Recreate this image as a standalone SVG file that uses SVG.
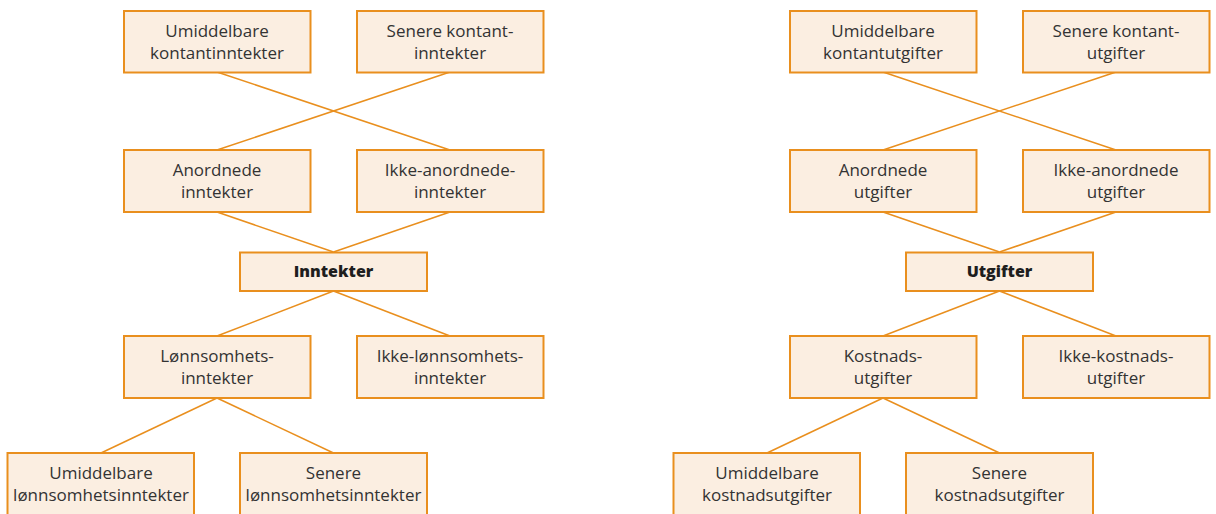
<svg xmlns="http://www.w3.org/2000/svg" width="1216" height="514" viewBox="0 0 1216 514">
<style>
.box{fill:#FBEEE1;stroke:#E98F1E;stroke-width:2}
.t{font-family:"Open Sans","Liberation Sans",sans-serif;font-size:17px;fill:#333333;text-anchor:middle}
.b{font-family:"Open Sans","Liberation Sans",sans-serif;font-size:16px;font-weight:800;fill:#1e1e1e;text-anchor:middle}
.c{stroke:#E98F1E;stroke-width:1.5;fill:none}
</style>
<rect width="1216" height="514" fill="#ffffff"/>
<g id="connectors" class="c">
<line x1="217" y1="72" x2="450" y2="150"/>
<line x1="450" y1="72" x2="217" y2="150"/>
<line x1="217" y1="212" x2="333.5" y2="252"/>
<line x1="450" y1="212" x2="333.5" y2="252"/>
<line x1="333.5" y1="291" x2="217" y2="336"/>
<line x1="333.5" y1="291" x2="450" y2="336"/>
<line x1="217" y1="398" x2="101" y2="453"/>
<line x1="217" y1="398" x2="333.5" y2="453"/>
<line x1="883" y1="72" x2="1116" y2="150"/>
<line x1="1116" y1="72" x2="883" y2="150"/>
<line x1="883" y1="212" x2="999.5" y2="252"/>
<line x1="1116" y1="212" x2="999.5" y2="252"/>
<line x1="999.5" y1="291" x2="883" y2="336"/>
<line x1="999.5" y1="291" x2="1116" y2="336"/>
<line x1="883" y1="398" x2="767" y2="453"/>
<line x1="883" y1="398" x2="999.5" y2="453"/>
</g>
<g id="n1"><rect class="box" x="124" y="11" width="186.5" height="61.5"/><text class="t" x="217" y="37">Umiddelbare</text><text class="t" x="217" y="59">kontantinntekter</text></g>
<g id="n2"><rect class="box" x="357" y="11" width="186.5" height="61.5"/><text class="t" x="450" y="37">Senere kontant-</text><text class="t" x="450" y="59">inntekter</text></g>
<g id="n3"><rect class="box" x="124" y="150" width="186.5" height="62"/><text class="t" x="217" y="176">Anordnede</text><text class="t" x="217" y="198">inntekter</text></g>
<g id="n4"><rect class="box" x="357" y="150" width="186.5" height="62"/><text class="t" x="450" y="176">Ikke-anordnede-</text><text class="t" x="450" y="198">inntekter</text></g>
<g id="n5"><rect class="box" x="240" y="252.5" width="187" height="38.5"/><text class="b" x="333.5" y="277">Inntekter</text></g>
<g id="n6"><rect class="box" x="124" y="336" width="186.5" height="62"/><text class="t" x="217" y="362">Lønnsomhets-</text><text class="t" x="217" y="384">inntekter</text></g>
<g id="n7"><rect class="box" x="357" y="336" width="186.5" height="62"/><text class="t" x="450" y="362">Ikke-lønnsomhets-</text><text class="t" x="450" y="384">inntekter</text></g>
<g id="n8"><rect class="box" x="7.5" y="453" width="186.5" height="62"/><text class="t" x="101" y="479">Umiddelbare</text><text class="t" x="101" y="501">lønnsomhetsinntekter</text></g>
<g id="n9"><rect class="box" x="240" y="453" width="187" height="62"/><text class="t" x="333.5" y="479">Senere</text><text class="t" x="333.5" y="501">lønnsomhetsinntekter</text></g>
<g id="m1"><rect class="box" x="790" y="11" width="186.5" height="61.5"/><text class="t" x="883" y="37">Umiddelbare</text><text class="t" x="883" y="59">kontantutgifter</text></g>
<g id="m2"><rect class="box" x="1023" y="11" width="186.5" height="61.5"/><text class="t" x="1116" y="37">Senere kontant-</text><text class="t" x="1116" y="59">utgifter</text></g>
<g id="m3"><rect class="box" x="790" y="150" width="186.5" height="62"/><text class="t" x="883" y="176">Anordnede</text><text class="t" x="883" y="198">utgifter</text></g>
<g id="m4"><rect class="box" x="1023" y="150" width="186.5" height="62"/><text class="t" x="1116" y="176">Ikke-anordnede</text><text class="t" x="1116" y="198">utgifter</text></g>
<g id="m5"><rect class="box" x="906" y="252.5" width="187" height="38.5"/><text class="b" x="999.5" y="277">Utgifter</text></g>
<g id="m6"><rect class="box" x="790" y="336" width="186.5" height="62"/><text class="t" x="883" y="362">Kostnads-</text><text class="t" x="883" y="384">utgifter</text></g>
<g id="m7"><rect class="box" x="1023" y="336" width="186.5" height="62"/><text class="t" x="1116" y="362">Ikke-kostnads-</text><text class="t" x="1116" y="384">utgifter</text></g>
<g id="m8"><rect class="box" x="673.5" y="453" width="186.5" height="62"/><text class="t" x="767" y="479">Umiddelbare</text><text class="t" x="767" y="501">kostnadsutgifter</text></g>
<g id="m9"><rect class="box" x="906" y="453" width="187" height="62"/><text class="t" x="999.5" y="479">Senere</text><text class="t" x="999.5" y="501">kostnadsutgifter</text></g>
</svg>
